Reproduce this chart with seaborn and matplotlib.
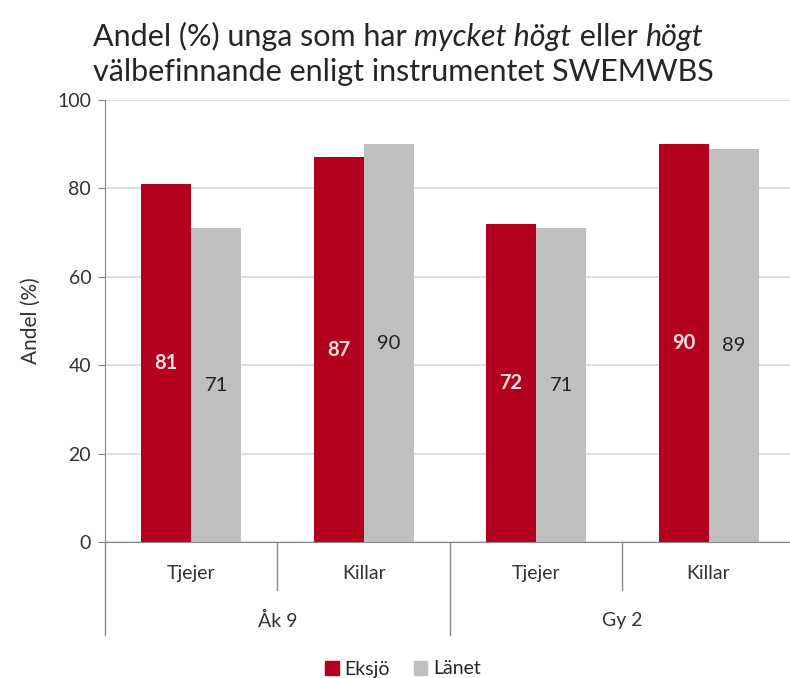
import pandas as pd
import matplotlib.pyplot as plt
import seaborn as sns

# data
grades = ["Åk 9", "Åk 9", "Gy 2", "Gy 2"]
genders = ["Tjejer", "Killar", "Tjejer", "Killar"]
eksjo = [81, 87, 72, 90]
lanet = [71, 90, 71, 89]
series = ["Eksjö", "Länet"]
colors = ["#B3001E", "#BFBFBF"]

keys = [g + " " + s for g, s in zip(grades, genders)]
df = pd.DataFrame({
    "key": keys * 2,
    "serie": [series[0]] * 4 + [series[1]] * 4,
    "value": eksjo + lanet,
})

sns.set_style("white")
plt.rcParams["font.family"] = ["Lato", "DejaVu Sans"]

fig = plt.figure(figsize=(7.9, 6.78), dpi=100)
ax = fig.add_axes([0.133, 0.2006, 0.873, 0.652])

sns.barplot(data=df, x="key", y="value", hue="serie", order=keys,
            hue_order=series, palette=colors, width=0.58, gap=0,
            saturation=1, legend=False, linewidth=0, ax=ax)

ax.set_ylim(0, 100)
ax.set_xlim(-0.5, 3.5)
ax.set_yticks(range(0, 101, 20))
ax.yaxis.grid(True, color="#D9D9D9", linewidth=1.2)
ax.set_axisbelow(True)
for s in ["top", "right"]:
    ax.spines[s].set_visible(False)
ax.spines["left"].set_color("#888888")
ax.spines["bottom"].set_color("#888888")
ax.tick_params(axis="y", left=True, length=5, color="#888888", labelsize=14,
               labelcolor="#333333", pad=5)
ax.tick_params(axis="x", bottom=False, labelsize=14, labelcolor="#333333", pad=13)
ax.set_xticks(range(4))
ax.set_xticklabels(genders)
ax.set_xlabel("")
ax.set_ylabel("Andel (%)", fontsize=15, color="#333333", labelpad=12)

# value labels in the middle of each bar
label_styles = [("#FFE0E6", "bold"), ("#222222", "normal")]
for cont, (lc, fw) in zip(ax.containers, label_styles):
    ax.bar_label(cont, label_type="center", color=lc, fontsize=14.5,
                 fontweight=fw)

# category separators below the axis
tr = ax.get_xaxis_transform()
for x in [0.5, 2.5]:
    ax.plot([x, x], [0, -0.108], transform=tr, color="#888888", lw=1, clip_on=False)
for x in [-0.5, 1.5, 3.5]:
    ax.plot([x, x], [0, -0.21], transform=tr, color="#888888", lw=1, clip_on=False)
for x, g in [(0.5, "Åk 9"), (2.5, "Gy 2")]:
    ax.text(x, -0.178, g, transform=tr, ha="center", va="center", fontsize=14,
            color="#333333")

# title with italic words, laid out piece by piece
pieces = [("Andel (%) unga som har ", "normal"), ("mycket högt", "italic"),
          (" eller ", "normal"), ("högt", "italic")]
prev = fig.text(93 / 790, 1 - 46 / 678, pieces[0][0], fontsize=22,
                color="#262626", va="baseline", ha="left")
for txt, st in pieces[1:]:
    prev = ax.annotate(txt, xy=(1, 0), xycoords=prev, fontsize=22, style=st,
                       color="#262626", va="bottom", ha="left")
fig.text(93 / 790, 1 - 81 / 678, "välbefinnande enligt instrumentet SWEMWBS",
         fontsize=22, color="#262626", va="baseline", ha="left")

handles = [plt.Rectangle((0, 0), 1, 1, color=c) for c in colors]
fig.legend(handles, series, loc="center", ncol=2, frameon=False,
           fontsize=14, handlelength=0.7, handleheight=0.7, handletextpad=0.3,
           columnspacing=1.2, bbox_to_anchor=(403 / 790, 1 - 669 / 678))

fig.savefig("out.png", dpi=100)
